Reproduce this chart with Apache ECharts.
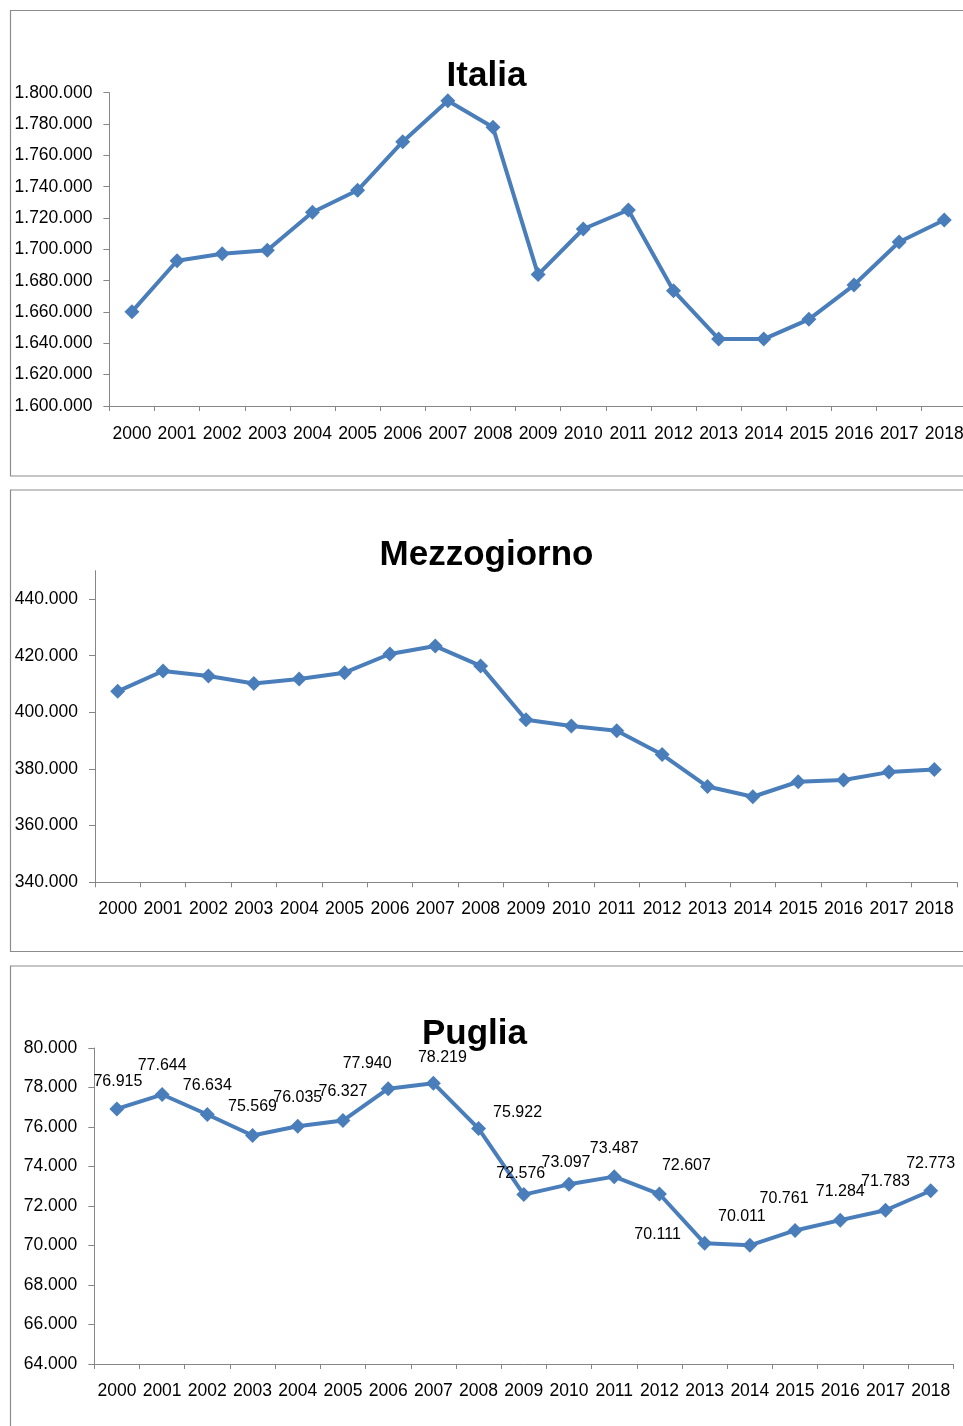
<!DOCTYPE html>
<html>
<head>
<meta charset="utf-8">
<script src="https://cdn.jsdelivr.net/npm/echarts@6/dist/echarts.min.js"></script>
<style>
html,body{margin:0;padding:0;background:#fff;overflow:hidden;}
#chart{width:975px;height:1426px;}
</style>
</head>
<body>
<div id="chart"></div>
<script>
// ---- data ----
const years = ['2000','2001','2002','2003','2004','2005','2006','2007','2008','2009','2010','2011','2012','2013','2014','2015','2016','2017','2018'];
const italia = [1660200, 1692700, 1697200, 1699400, 1723700, 1737700, 1768700, 1794900, 1777900, 1683900, 1713000, 1725100, 1673600, 1642800, 1642700, 1655300, 1677200, 1704700, 1718700];
const mezzogiorno = [407400, 414600, 412800, 410200, 411800, 414000, 420600, 423400, 416400, 397400, 395200, 393500, 385100, 373800, 370200, 375500, 376100, 378900, 379800];
const puglia = [76915, 77644, 76634, 75569, 76035, 76327, 77940, 78219, 75922, 72576, 73097, 73487, 72607, 70111, 70011, 70761, 71284, 71783, 72773];
const titles = ['Italia', 'Mezzogiorno', 'Puglia'];
const italiaTicks = [1600000, 1620000, 1640000, 1660000, 1680000, 1700000, 1720000, 1740000, 1760000, 1780000, 1800000];
const mezzoTicks = [340000, 360000, 380000, 400000, 420000, 440000];
const pugliaTicks = [64000, 66000, 68000, 70000, 72000, 74000, 76000, 78000, 80000];

// ---- style (label nudges for Puglia data labels) ----
const labelOffsets = [[1,1],[0,0],[0,0],[0,0],[0,0],[0,0],[-21,3],[9,3],[39,13],[-3,7],[-3,7],[0,0],[27,0],[-47,20],[-8,0],[-11,-3],[0,0],[0,0],[0,1]];

const BLUE = '#4a7ebb';
const AXIS = '#868686';
const FONT = '"Liberation Sans", Arial, sans-serif';

function fmt(v) {
  return Math.round(v).toString().replace(/\B(?=(\d{3})+(?!\d))/g, '.');
}

function xAxis(gi, margin) {
  return {
    type: 'category', gridIndex: gi, data: years, boundaryGap: true,
    axisLine: {show: true, lineStyle: {color: AXIS, width: 1}},
    axisTick: {show: true, length: 5, lineStyle: {color: AXIS}},
    axisLabel: {interval: 0, margin: margin, color: '#000', fontSize: 17.5, fontFamily: FONT},
    splitLine: {show: false}
  };
}
function yAxis(gi, ticks, max) {
  return {
    type: 'value', gridIndex: gi, min: ticks[0], max: max,
    interval: ticks[1] - ticks[0],
    axisLine: {show: true, lineStyle: {color: AXIS, width: 1}},
    axisTick: {show: true, length: 6, lineStyle: {color: AXIS}, customValues: ticks},
    axisLabel: {margin: 17, color: '#000', fontSize: 17.5, fontFamily: FONT, formatter: fmt, customValues: ticks},
    splitLine: {show: false}
  };
}
function lineSeries(gi, data) {
  return {
    type: 'line', xAxisIndex: gi, yAxisIndex: gi, data: data,
    symbol: 'diamond', symbolSize: 15, showAllSymbol: true,
    lineStyle: {color: BLUE, width: 4},
    itemStyle: {color: BLUE},
    emphasis: {disabled: true},
    animation: false
  };
}

const pugliaData = puglia.map((v, i) => ({value: v, label: {offset: labelOffsets[i]}}));
const pugliaSeries = lineSeries(2, pugliaData);
pugliaSeries.label = {show: true, position: 'top', distance: 13, color: '#000', fontSize: 16, fontFamily: FONT, formatter: p => fmt(p.value)};

function panel(y, h) {
  return {type: 'rect', shape: {x: 10.5, y: y + 0.5, width: 1000, height: h}, style: {fill: 'none', stroke: '#8c8c8c', lineWidth: 1.2}, silent: true};
}
function titleText(t, x, y) {
  return {type: 'text', x: x, y: y, style: {text: t, align: 'center', verticalAlign: 'middle', fill: '#000', font: 'bold 35px ' + FONT}, silent: true};
}

const chart = echarts.init(document.getElementById('chart'), null, {renderer: 'canvas'});
chart.setOption({
  animation: false,
  backgroundColor: '#fff',
  grid: [
    {left: 109.4, top: 92.7, width: 857.4, height: 313.3},
    {left: 95, top: 570.7, width: 862, height: 311.6},
    {left: 94.3, top: 1048, width: 859, height: 316}
  ],
  xAxis: [xAxis(0, 19), xAxis(1, 18), xAxis(2, 18)],
  yAxis: [
    yAxis(0, italiaTicks, italiaTicks[italiaTicks.length - 1]),
    yAxis(1, mezzoTicks, 450000),
    yAxis(2, pugliaTicks, pugliaTicks[pugliaTicks.length - 1])
  ],
  series: [lineSeries(0, italia), lineSeries(1, mezzogiorno), pugliaSeries],
  graphic: [
    panel(10, 465.5), panel(489.5, 461.5), panel(965.5, 500),
    titleText(titles[0], 486.5, 76),
    titleText(titles[1], 486.5, 555.5),
    titleText(titles[2], 474.5, 1034.5)
  ]
});
</script>
</body>
</html>
